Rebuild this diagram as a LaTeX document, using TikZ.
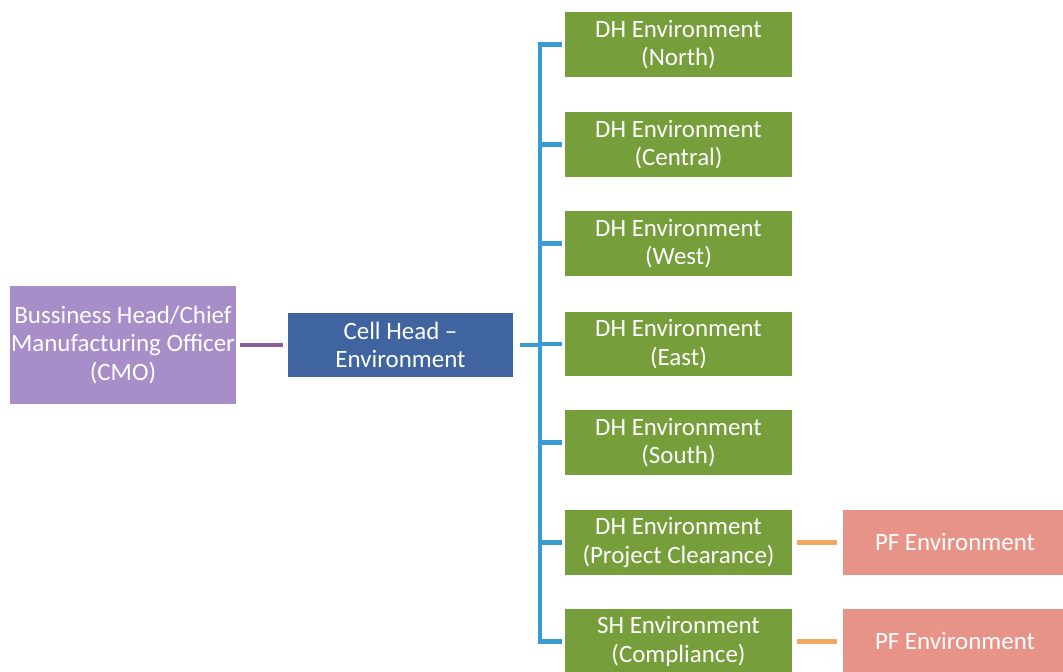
\documentclass[tikz,border=0pt]{standalone}
\usepackage{fontspec}
\setmainfont{Carlito}
\begin{document}
\begin{tikzpicture}[x=0.02cm,y=-0.02cm,
  box/.style={rectangle, draw=none, text=white, align=center, inner xsep=0pt, inner ysep=2pt,
    font=\fontsize{14.2}{16.3}\selectfont},
  cmobox/.style={box, fill=cmoc, minimum width=4.52cm, minimum height=2.36cm},
  cellbox/.style={box, fill=cellc, minimum width=4.5cm, minimum height=1.3cm},
  dhbox/.style={box, fill=dhc, minimum width=4.54cm, minimum height=1.3cm},
  pfbox/.style={box, fill=pfc, minimum width=4.5cm, minimum height=1.3cm},
  busline/.style={draw=busc, line width=2.3pt},
  pline/.style={draw=pc, line width=2.3pt},
  oline/.style={draw=oc, line width=2.3pt}]
\definecolor{cmoc}{RGB}{167,142,201}
\definecolor{cellc}{RGB}{64,100,160}
\definecolor{dhc}{RGB}{118,158,58}
\definecolor{pfc}{RGB}{232,147,136}
\definecolor{busc}{RGB}{58,155,208}
\definecolor{pc}{RGB}{140,94,160}
\definecolor{oc}{RGB}{245,168,96}
\useasboundingbox (0,0) rectangle (1063,672);
\fill[white] (0,0) rectangle (1063,672);

\node[cmobox] (cmo) at (123,345) {Bussiness Head/Chief\\Manufacturing Officer\\(CMO)};
\node[cellbox] (cell) at (400.5,345) {Cell Head --\\Environment};

\node[dhbox] (g1) at (678.5,44.5) {DH Environment\\(North)};
\node[dhbox] (g2) at (678.5,144.5) {DH Environment\\(Central)};
\node[dhbox] (g3) at (678.5,243.5) {DH Environment\\(West)};
\node[dhbox] (g4) at (678.5,344) {DH Environment\\(East)};
\node[dhbox] (g5) at (678.5,442.5) {DH Environment\\(South)};
\node[dhbox] (g6) at (678.5,542.5) {DH Environment\\(Project Clearance)};
\node[dhbox] (g7) at (678.5,641.5) {SH Environment\\(Compliance)};

\node[pfbox] (p1) at (955,542.5) {PF Environment};
\node[pfbox] (p2) at (955,641.5) {PF Environment};

\coordinate (bus) at (540,345);

\draw[pline, shorten <=0.08cm, shorten >=0.1cm] (cmo.east) -- (cell.west);
\draw[busline, shorten <=0.14cm] (cell.east) -- (bus);
\draw[busline] (bus |- g1.west) -- (bus |- g7.west);
\foreach \g in {g1,g2,g3,g4,g5,g6,g7}{
  \draw[busline, shorten <=-1.15pt, shorten >=0.06cm] (bus |- \g.west) -- (\g.west);
}
\draw[oline, shorten <=0.1cm, shorten >=0.1cm] (g6.east) -- (p1.west);
\draw[oline, shorten <=0.1cm, shorten >=0.1cm] (g7.east) -- (p2.west);
\end{tikzpicture}
\end{document}
